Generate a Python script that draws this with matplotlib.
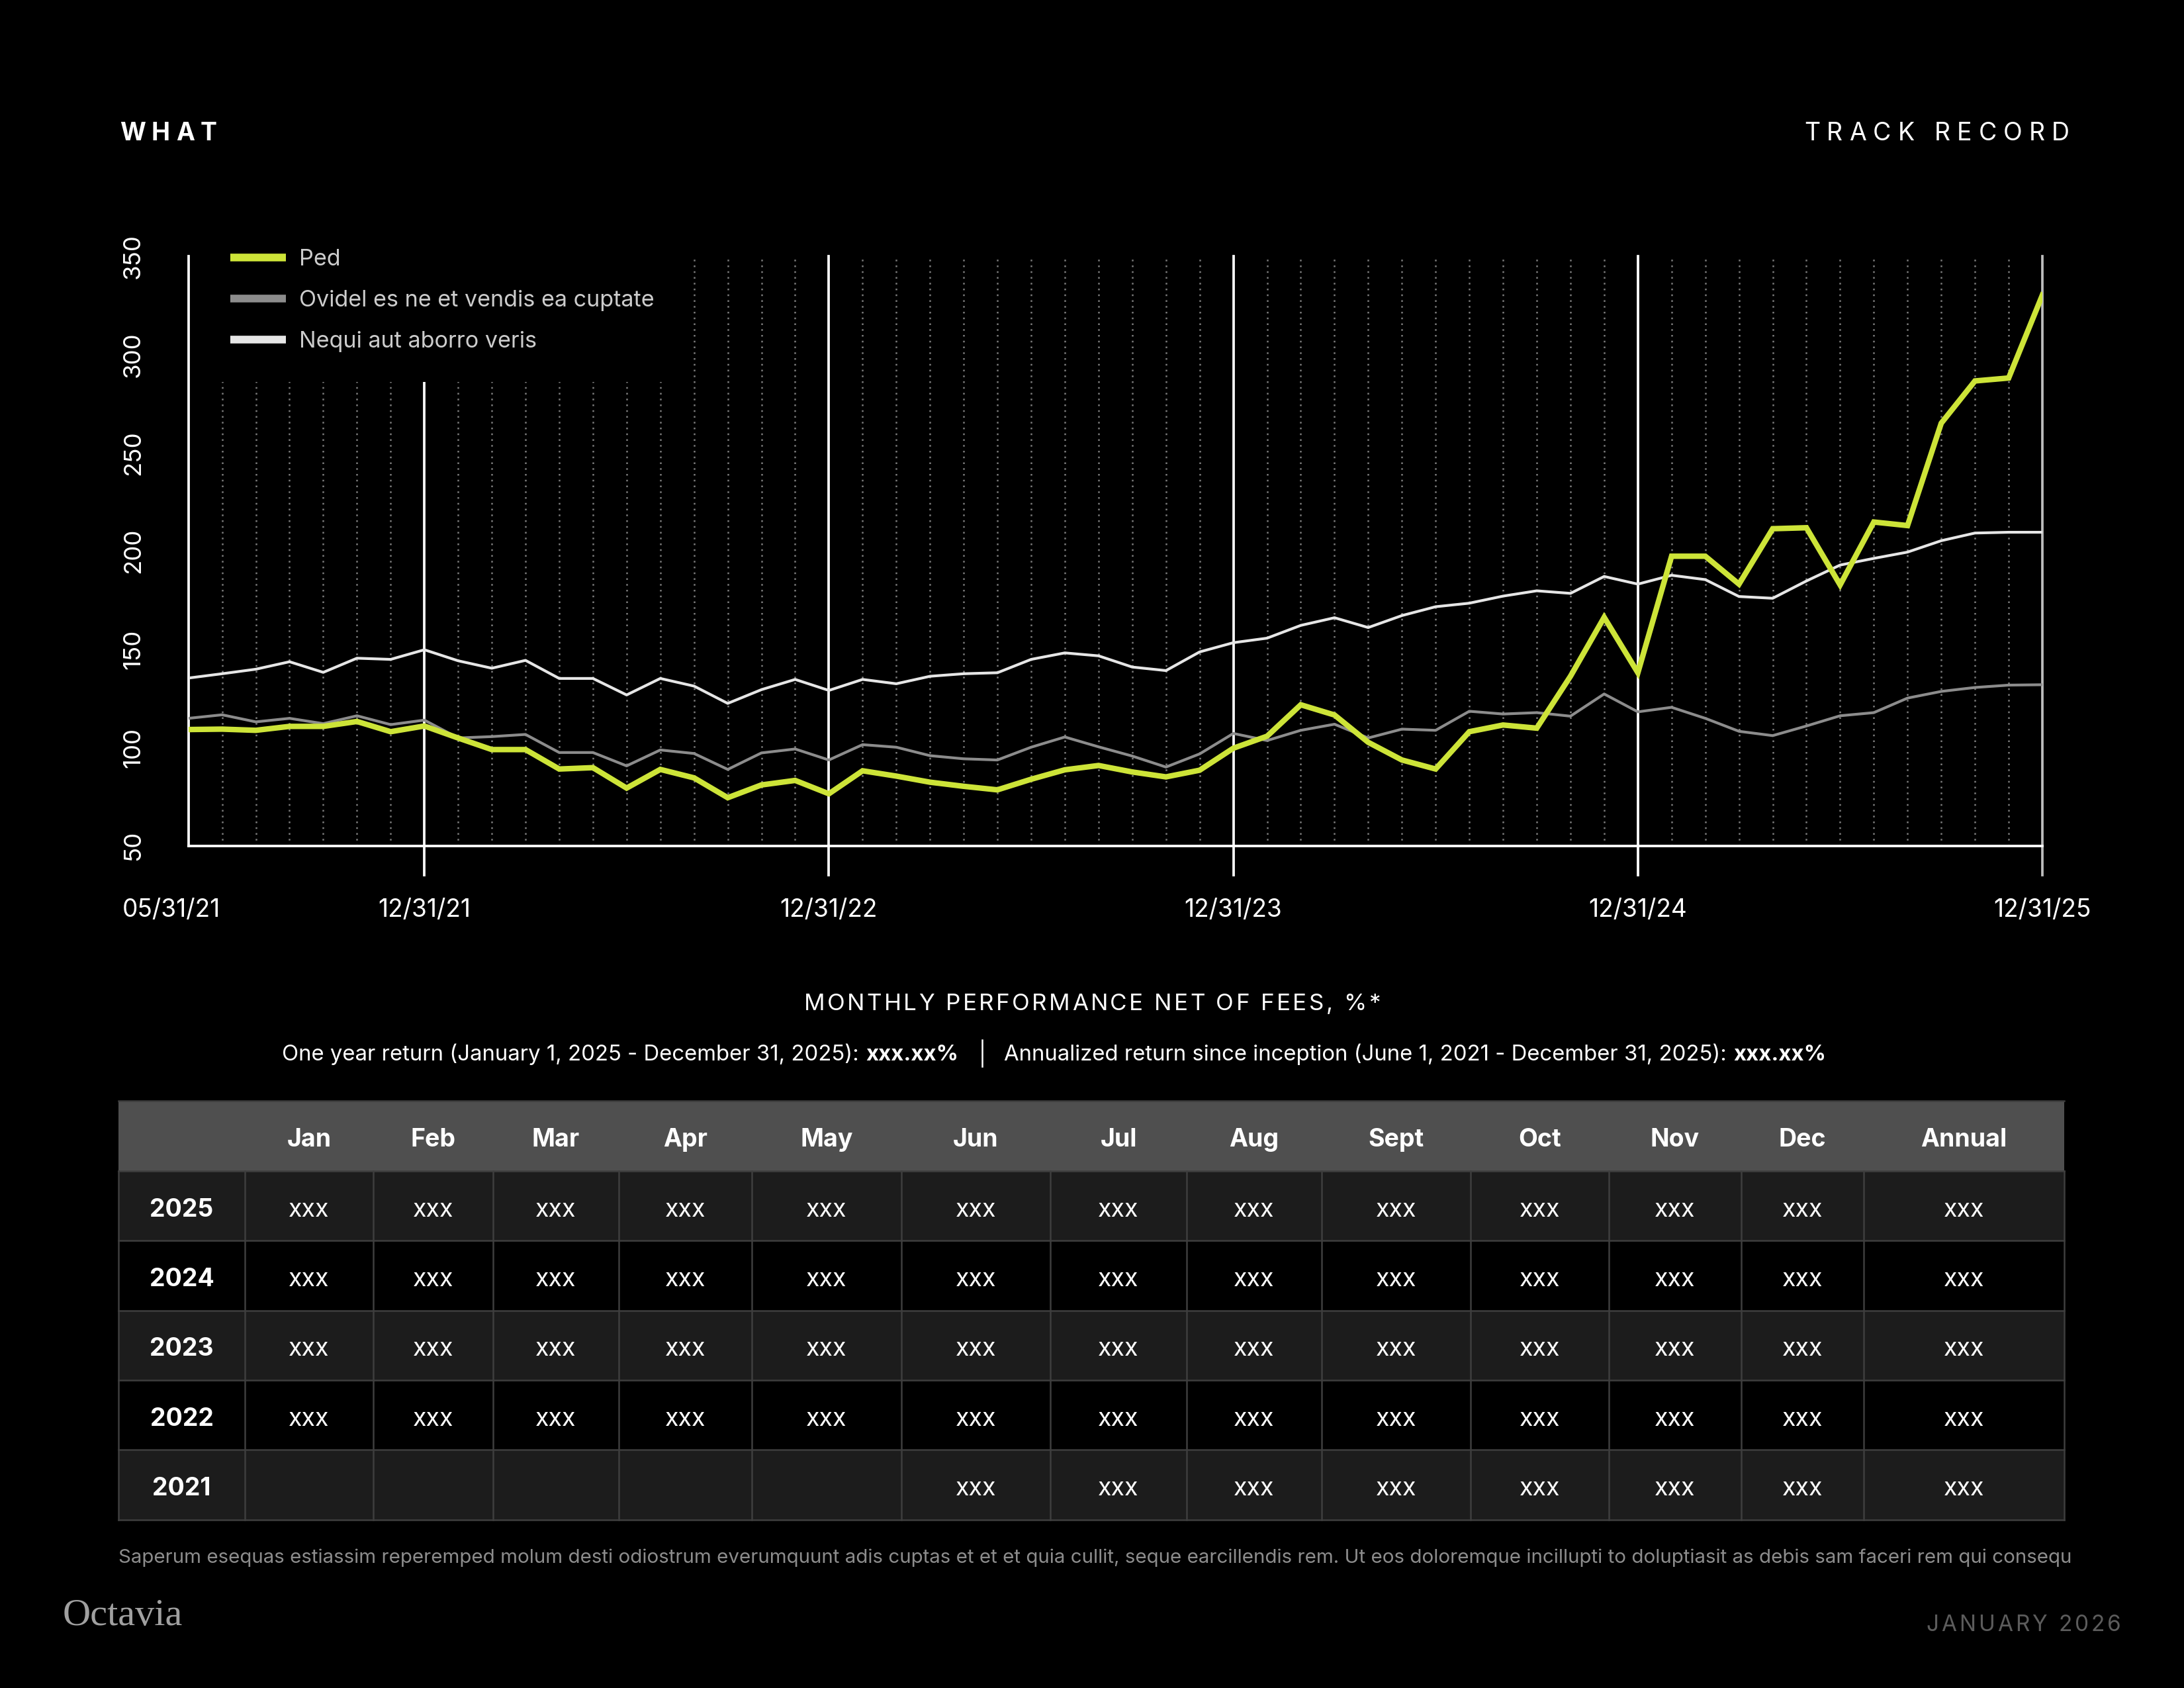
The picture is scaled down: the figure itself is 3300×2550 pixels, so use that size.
import matplotlib
matplotlib.use("Agg")
import matplotlib.pyplot as plt
import matplotlib.transforms as mtransforms
from matplotlib.lines import Line2D
from matplotlib.patches import Rectangle
import numpy as np
import pandas as pd

# ---------------- data ----------------
dates = pd.date_range("2021-05-31", "2025-12-31", freq="ME")

ped = [109.1, 109.3, 108.7, 110.7, 110.7, 113.2, 108.0, 110.9, 104.8, 98.9,
       98.9, 89.0, 89.7, 79.3, 88.8, 84.5, 74.4, 80.9, 83.2, 76.4,
       88.1, 85.4, 82.3, 80.2, 78.4, 83.8, 88.6, 90.8, 87.5, 85.0,
       88.4, 99.6, 105.7, 121.7, 116.5, 102.6, 93.6, 89.0, 108.0, 111.4,
       109.8, 136.2, 166.2, 138.0, 197.3, 197.3, 183.1, 211.3, 211.8, 182.7,
       214.7, 212.9, 265.0, 286.5, 288.0, 330.2]

ovidel = [114.8, 116.6, 113.0, 114.8, 112.1, 116.1, 111.6, 113.9, 104.8, 105.5,
          106.6, 97.4, 97.4, 90.6, 98.7, 96.9, 88.8, 97.2, 99.2, 93.6,
          101.4, 100.1, 95.8, 94.2, 93.6, 100.1, 105.3, 100.3, 95.6, 90.0,
          96.7, 107.1, 103.5, 108.7, 111.8, 104.8, 109.3, 108.7, 118.4, 117.0,
          117.7, 115.9, 127.2, 118.1, 120.4, 114.8, 108.2, 106.0, 110.9, 116.1,
          117.7, 125.1, 128.5, 130.5, 131.7, 131.9]

nequi = [135.3, 137.5, 139.8, 143.6, 138.2, 145.4, 144.8, 149.7, 144.1, 140.3,
         144.3, 135.1, 135.1, 126.7, 135.1, 131.2, 122.4, 129.4, 134.6, 129.0,
         134.6, 132.4, 136.2, 137.5, 138.0, 144.8, 148.1, 146.6, 140.9, 139.1,
         148.6, 153.3, 155.6, 162.1, 166.0, 161.0, 167.1, 171.6, 173.4, 177.0,
         179.7, 178.4, 187.0, 183.1, 187.6, 185.4, 176.8, 175.9, 184.7, 192.8,
         196.2, 199.4, 205.2, 209.1, 209.5, 209.5]

series_names = ["Ped", "Ovidel es ne et vendis ea cuptate", "Nequi aut aborro veris"]
y_ticks = [50, 100, 150, 200, 250, 300, 350]

table_cols = ["Jan", "Feb", "Mar", "Apr", "May", "Jun", "Jul", "Aug", "Sept",
              "Oct", "Nov", "Dec", "Annual"]
table_years = ["2025", "2024", "2023", "2022", "2021"]
table_cells = [
    ["xxx"] * 13,
    ["xxx"] * 13,
    ["xxx"] * 13,
    ["xxx"] * 13,
    [""] * 5 + ["xxx"] * 8,
]

title_left = "WHAT"
title_right = "TRACK RECORD"
table_title = "MONTHLY PERFORMANCE NET OF FEES, %*"
sub1 = "One year return (January 1, 2025 - December 31, 2025):"
sub2 = "Annualized return since inception (June 1, 2021 - December 31, 2025):"
sub_val = "xxx.xx%"
footnote = ("Saperum esequas estiassim reperemped molum desti odiostrum everumquunt adis "
            "cuptas et et et quia cullit, seque earcillendis rem. Ut eos doloremque "
            "incillupti to doluptiasit as debis sam faceri rem qui consequ")
brand = "Octavia"
date_text = "JANUARY 2026"

# ---------------- style ----------------
W, H = 3300, 2550
plt.rcParams["font.family"] = ["Inter", "DejaVu Sans"]
C_PED = "#cde438"
C_OV = "#8c8c8c"
C_NE = "#e6e6e6"

fig = plt.figure(figsize=(W / 300, H / 300), dpi=300, facecolor="black")

# page overlay in pixel coordinates
ov = fig.add_axes([0, 0, 1, 1], zorder=0)
ov.set_xlim(0, W)
ov.set_ylim(H, 0)
ov.axis("off")
ov.patch.set_visible(False)

renderer = fig.canvas.get_renderer()


def text_width(s, **kw):
    t = ov.text(0, 0, s, **kw)
    w = t.get_window_extent(renderer).width
    t.remove()
    return w


def spaced(x, y, s, track, ha="left", **kw):
    base = text_width("|", **kw)
    adv = [text_width(s[:i] + "|", **kw) - base for i in range(len(s) + 1)]
    total = adv[-1] + track * (len(s) - 1)
    if ha == "left":
        x0 = x
    elif ha == "right":
        x0 = x - total
    else:
        x0 = x - total / 2
    for i, ch in enumerate(s):
        if ch == " ":
            continue
        ov.text(x0 + adv[i] + i * track, y, ch, ha="left", va="center", **kw)


# ---------------- chart ----------------
ax = fig.add_axes([284.7 / W, 1 - 1277.5 / H, (3086 - 284.7) / W, (1277.5 - 387) / H], zorder=1)
ax.set_facecolor("black")
x = np.arange(len(dates))
ax.set_xlim(x[0], x[-1])
ax.set_ylim(y_ticks[0], y_ticks[-1])

year_end = [i for i, d in enumerate(dates) if d.month == 12]
for i in x:
    if i == 0 or i in year_end:
        continue
    ax.axvline(i, color="#7c7c7c", lw=0.6, ls=(0, (1, 2.5)), zorder=1)
for i in year_end:
    col = "#ffffff" if i != x[-1] else "#bdbdbd"
    ax.plot([i, i], [-0.05, 1], transform=ax.get_xaxis_transform(), color=col,
            lw=0.9, clip_on=False, zorder=1.5)

ax.plot(x, nequi, color=C_NE, lw=1.0, zorder=3)
ax.plot(x, ovidel, color=C_OV, lw=1.0, zorder=3)
ax.plot(x, ped, color=C_PED, lw=2.0, zorder=4, solid_joinstyle="miter")

for s in ["top", "right"]:
    ax.spines[s].set_visible(False)
for s in ["left", "bottom"]:
    ax.spines[s].set_color("white")
    ax.spines[s].set_linewidth(0.9)

ax.set_yticks(y_ticks)
ax.set_yticklabels([str(v) for v in y_ticks])
ax.tick_params(axis="y", length=0, pad=16, labelsize=8.8, labelcolor="white", labelrotation=90)
for lab in ax.get_yticklabels():
    lab.set_va("center")

xt = [0] + year_end
ax.set_xticks(xt)
ax.set_xticklabels([dates[i].strftime("%m/%d/%y") for i in xt])
ax.tick_params(axis="x", length=0, pad=19, labelsize=8.9, labelcolor="white")
first = ax.get_xticklabels()[0]
first.set_transform(first.get_transform() + mtransforms.ScaledTranslation(-26 / 300, 0, fig.dpi_scale_trans))

handles = [Line2D([], [], color=c, lw=2.8, solid_capstyle="butt") for c in (C_PED, C_OV, C_NE)]
leg = ax.legend(handles, series_names, loc="upper left", bbox_to_anchor=(0.0066, 1.062),
                frameon=True, facecolor="black", edgecolor="none", framealpha=1,
                fancybox=False, fontsize=8.2, labelcolor="#cccccc", handlelength=2.46,
                handletextpad=0.6, labelspacing=0.88, borderpad=1.3, borderaxespad=0)
leg.set_zorder(5)

# ---------------- headers ----------------
spaced(181, 202, title_left, 9, ha="left", fontsize=9, color="white", fontweight="bold")
spaced(3127, 202, title_right, 10, ha="right", fontsize=9, color="white")

spaced(1650, 1517, table_title, 3.4, ha="center", fontsize=8.4, color="white")

fs_sub = 7.9
wb = text_width(sub_val, fontsize=fs_sub, fontweight="bold")
ov.text(1448, 1593, sub_val, ha="right", va="center", fontsize=fs_sub, fontweight="bold", color="white")
ov.text(1448 - wb - 10, 1593, sub1, ha="right", va="center", fontsize=fs_sub, color="white")
ov.plot([1484, 1484], [1571, 1611], color="white", lw=0.6)
ov.text(1517, 1593, sub2, ha="left", va="center", fontsize=fs_sub, color="white")
w2 = text_width(sub2, fontsize=fs_sub)
ov.text(1517 + w2 + 10, 1593, sub_val, ha="left", va="center", fontsize=fs_sub, fontweight="bold", color="white")

# ---------------- table ----------------
col_edges = [179, 370, 564, 745, 935, 1136, 1362, 1587, 1793, 1997, 2222, 2431, 2631, 2816, 3119]
row_edges = [1663, 1769, 1874, 1980, 2085, 2190, 2296]
grid_c = "#3e3e3e"
toff = 6

ov.add_patch(Rectangle((col_edges[0], row_edges[0]), col_edges[-1] - col_edges[0],
                       row_edges[1] - row_edges[0], facecolor="#4f4f4f", edgecolor="none"))
for j, name in enumerate(table_cols):
    cx = (col_edges[j + 1] + col_edges[j + 2]) / 2
    ov.text(cx, (row_edges[0] + row_edges[1]) / 2 + toff, name, ha="center", va="center",
            fontsize=9, fontweight="bold", color="white")

for r, yr in enumerate(table_years):
    y0, y1 = row_edges[r + 1], row_edges[r + 2]
    fc = "#1c1c1c" if r % 2 == 0 else "#000000"
    ov.add_patch(Rectangle((col_edges[0], y0), col_edges[-1] - col_edges[0], y1 - y0,
                           facecolor=fc, edgecolor="none"))
    ov.text((col_edges[0] + col_edges[1]) / 2, (y0 + y1) / 2 + toff, yr, ha="center", va="center",
            fontsize=9, fontweight="bold", color="white")
    for j, val in enumerate(table_cells[r]):
        if val:
            cx = (col_edges[j + 1] + col_edges[j + 2]) / 2
            ov.text(cx, (y0 + y1) / 2 + toff, val, ha="center", va="center", fontsize=9, color="white")

for yv in row_edges:
    ov.plot([col_edges[0], col_edges[-1]], [yv, yv], color=grid_c, lw=0.6)
for xv in col_edges:
    ov.plot([xv, xv], [row_edges[1], row_edges[-1]], color=grid_c, lw=0.6)

# ---------------- footer ----------------
ov.text(179, 2353, footnote, ha="left", va="center", fontsize=7.1, color="#8c8c8c")
ov.text(95, 2441, brand, ha="left", va="center", fontsize=14, color="#a0a0a0",
        family=["Liberation Serif", "DejaVu Serif"])
spaced(3205, 2455, date_text, 4, ha="right", fontsize=8, color="#5c5c5c")

fig.savefig("out.png", dpi=300, facecolor="black")
